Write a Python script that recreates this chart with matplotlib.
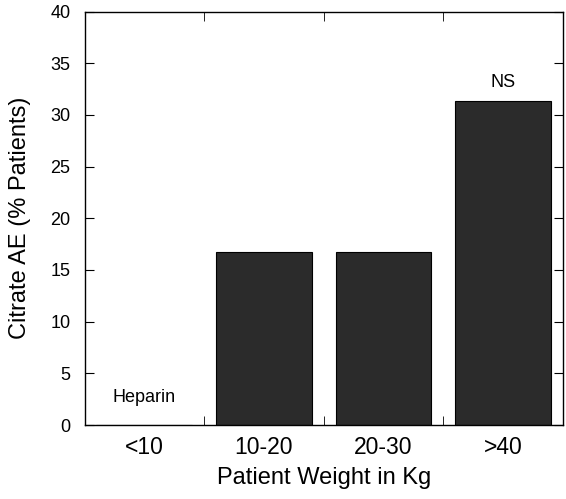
import matplotlib.pyplot as plt
import numpy as np

plt.rcParams['font.family'] = ['Liberation Sans', 'DejaVu Sans']

categories = ['<10', '10-20', '20-30', '>40']
citrate_ae = [0, 16.7, 16.7, 31.3]
yticks = [0, 5, 10, 15, 20, 25, 30, 35, 40]

fig = plt.figure(figsize=(5.66, 4.99), dpi=100)
ax = fig.add_axes([84.5 / 566, 1 - 425 / 499, (563 - 84.5) / 566, (425 - 11.5) / 499])

x = np.arange(len(categories))
ax.bar(x, citrate_ae, width=0.8, color='#2b2b2b', edgecolor='black', linewidth=0.8)

ax.set_xlim(-0.5, 3.5)
ax.set_ylim(0, 40)
ax.set_xticks(x)
ax.set_xticklabels(categories, fontsize=16.5)
ax.set_xticks(x[:-1] + 0.5, minor=True)
ax.set_yticks(yticks)
ax.set_yticklabels([str(v) for v in yticks], fontsize=13)
ax.tick_params(axis='x', which='major', length=0, pad=8)
ax.tick_params(axis='x', which='minor', direction='in', length=6.5, top=True, bottom=True)
ax.tick_params(axis='y', direction='in', length=6.5, left=True, right=True, pad=10)

for s in ax.spines.values():
    s.set_linewidth(1.0)

ax.set_xlabel('Patient Weight in Kg', fontsize=17, labelpad=6)
ax.set_ylabel('Citrate AE (% Patients)', fontsize=17, labelpad=14)

ax.text(0, 2.7, 'Heparin', ha='center', va='center', fontsize=13)
ax.text(3, 33.1, 'NS', ha='center', va='center', fontsize=13)

fig.savefig('out.png', dpi=100)
